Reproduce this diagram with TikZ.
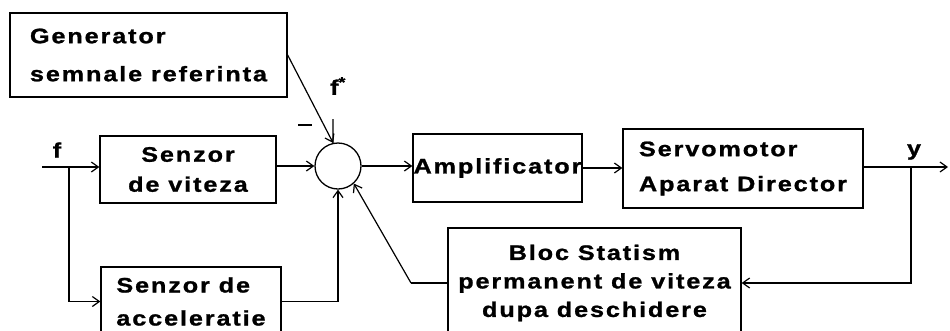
\documentclass[tikz,border=0pt]{standalone}
\usepackage{fontspec}
\usetikzlibrary{arrows.meta,calc}
\newfontfamily\bfont{Liberation Sans}[FakeStretch=1.2,LetterSpace=9,FakeBold=1.2]
\tikzset{
  blk/.style={draw, line width=1.3pt, inner sep=0pt, font=\bfont\bfseries\fontsize{21}{30}\selectfont},
  ln/.style={line width=1.2pt},
  arr/.style={line width=1.2pt, -{Straight Barb[length=7pt,width=10pt,line width=1.2pt]}},
  lab/.style={inner sep=0pt, font=\bfont\bfseries\fontsize{21}{24}\selectfont},
}
\begin{document}
\begin{tikzpicture}[x=1pt,y=-1pt]
\useasboundingbox (0,0) rectangle (950,330);
\clip (0,0) rectangle (950,330);
% blocks
\node[blk, minimum width=277pt, minimum height=84pt, align=left] (gen) at (148.5,55) {Generator\\[8pt]semnale referinta};
\node[blk, minimum width=176pt, minimum height=67pt, align=center] (vit) at (188,169.5) {Senzor\\de viteza};
\node[blk, minimum width=180pt, minimum height=69pt, align=left] (acc) at (191,301.5) {Senzor de\\[3pt]acceleratie};
\node[draw, line width=1.3pt, circle, minimum size=46pt, inner sep=0pt] (sum) at (338,166) {};
\node[blk, minimum width=169pt, minimum height=68pt] (amp) at (497.5,168) {Amplificator};
\node[blk, minimum width=240pt, minimum height=79pt, align=left] (servo) at (743,168.5) {Servomotor\\[5pt]Aparat Director};
\node[blk, minimum width=293pt, minimum height=110pt, align=center, font=\bfont\bfseries\fontsize{21}{28.5}\selectfont] (bloc) at (594.5,283) {Bloc Statism\\permanent de viteza\\dupa deschidere};
% coordinates
\coordinate (fin) at (42,167);
\coordinate (br) at (69,167);
\coordinate (yb) at (911,167);
\coordinate (yout) at (948,167);
\coordinate (bk) at (411,283);
\coordinate (ftop) at (333,119);
% connectors
\draw[ln] (fin) -- (br);
\draw[arr] (br) -- (vit.west |- br);
\draw[arr] (br) |- (acc.west);
\draw[arr] (vit.east |- sum) -- (sum.west);
\draw[arr] (acc.east) -| (sum.south);
\draw[arr] (gen.east) -- (sum.102);
\draw[ln] (ftop) -- (sum.102);
\draw[arr] (sum.east) -- (amp.west |- sum.east);
\draw[arr] (amp.east) -- (servo.west |- amp.east);
\draw[ln] (servo.east |- yb) -- (yb);
\draw[arr] (yb) -- (yout);
\draw[arr] (yb) |- (bloc.east);
\draw[ln] (bloc.west) -- (bk);
\draw[arr] (bk) -- (sum.-48);
% labels
\node[lab] (lf) at (57,150) {f};
\node[lab] (lfs) at (338,86) {f\textsuperscript{*}};
\node[inner sep=0pt] (lminus) at (305,125) {\rule{14pt}{2.5pt}};
\node[lab] (ly) at (914,152) {y};
\end{tikzpicture}
\end{document}
